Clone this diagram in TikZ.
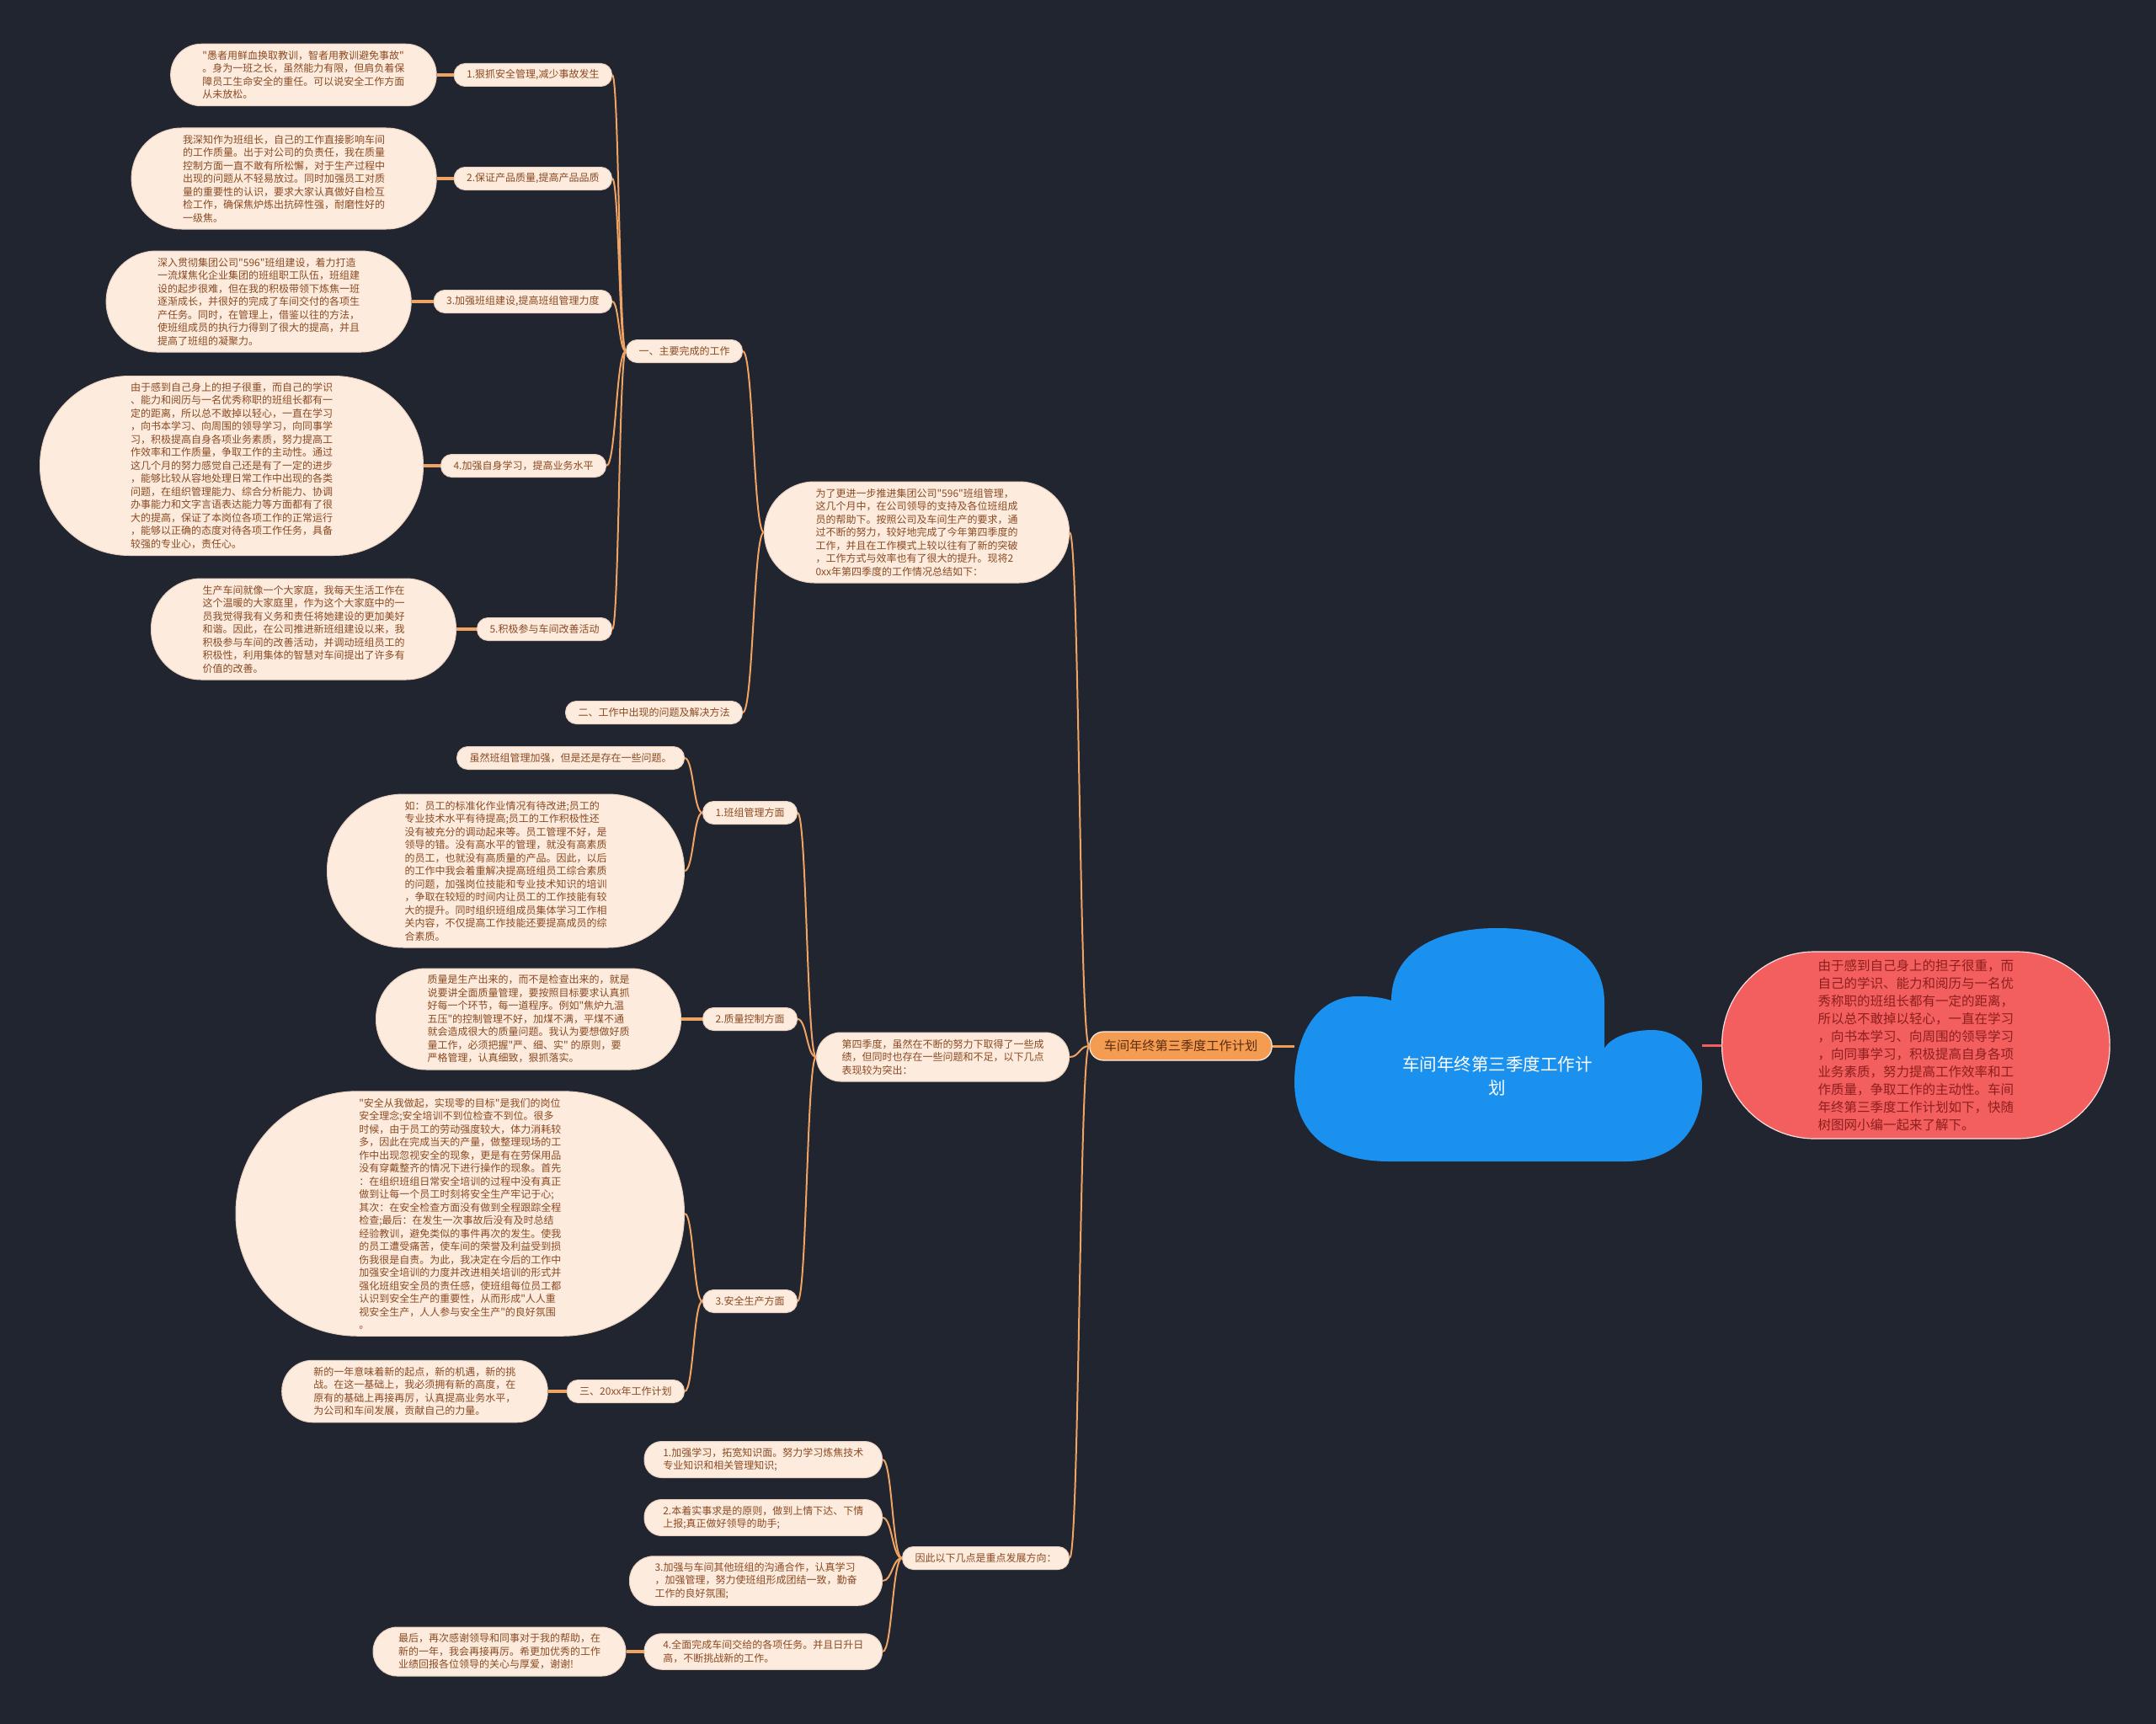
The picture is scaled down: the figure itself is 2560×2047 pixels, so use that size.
\documentclass[tikz,border=0pt]{standalone}
\usepackage{fontspec}
\usepackage{xcolor}
\usepackage{tikz}
\usetikzlibrary{positioning,calc}
\newfontfamily\cjk{Noto Sans CJK SC}
\definecolor{bgdark}{HTML}{212530}
\definecolor{leafpeach}{HTML}{FDEBDD}
\definecolor{leafedge}{HTML}{EAD2C2}
\definecolor{leaftext}{HTML}{8A4A22}
\definecolor{linkorange}{HTML}{F0A463}
\definecolor{mainorange}{HTML}{F49D52}
\definecolor{maintext}{HTML}{5C2C0E}
\definecolor{cloudblue}{HTML}{1A91EE}
\definecolor{introred}{HTML}{F35E5E}
\definecolor{introtext}{HTML}{8E1F1F}

\begin{document}
\begin{tikzpicture}[x=1pt,y=-1pt,
  leafbase/.style={rectangle,fill=leafpeach,draw=leafedge,line width=1pt,text=leaftext,
    font=\cjk\fontsize{12pt}{15.5pt}\selectfont,align=left},
  para/.code={\pgfmathsetmacro\paraH{27+(#1-1)*15.5}%
    \pgfmathsetmacro\paraR{\paraH/2-0.5}%
    \pgfmathsetmacro\paraX{\paraH/2+1}%
    \tikzset{leafbase,rounded corners=\paraR pt,inner xsep=\paraX pt,inner ysep=7.5pt,
      minimum height=\paraH pt}},
  tag/.style={leafbase,rounded corners=13pt,inner xsep=15pt,inner ysep=0pt,minimum height=27pt},
  mainbox/.style={rectangle,rounded corners=16.5pt,fill=mainorange,draw=white!85!mainorange,line width=1.2pt,
    text=maintext,font=\cjk\fontsize{15.2pt}{18pt}\selectfont,inner xsep=17pt,minimum height=34pt},
  leadbox/.style={rectangle,rounded corners=110pt,fill=introred,draw=white!80!introred,line width=1.2pt,
    text=introtext,font=\cjk\fontsize{15.5pt}{21pt}\selectfont,align=left,inner xsep=114pt,
    inner ysep=8pt,minimum height=222pt},
  link/.style={draw=linkorange,line width=2pt,
    to path={let \p1=(\tikztostart),\p2=(\tikztotarget) in
      .. controls ({(\x1+\x2)/2},\y1) and ({(\x1+\x2)/2},\y2) .. (\tikztotarget)}},
  stub/.style={draw=linkorange,line width=3.5pt}
]
\fill[bgdark] (0,0) rectangle (2560,2047);
% central cloud
\fill[cloudblue] (1650,1379) -- (1930,1379)
  .. controls (1995,1379) and (2021,1335) .. (2021,1290)
  .. controls (2021,1250) and (1995,1223) .. (1962,1223)
  .. controls (1935,1223) and (1912,1232) .. (1905,1245)
  -- (1905,1190)
  .. controls (1905,1130) and (1850,1102) .. (1778,1102)
  .. controls (1706,1102) and (1652,1130) .. (1652,1188)
  .. controls (1640,1184) and (1628,1183) .. (1612,1183)
  .. controls (1560,1183) and (1537,1235) .. (1537,1285)
  .. controls (1537,1340) and (1572,1379) .. (1650,1379) -- cycle;
\node[text=white,font=\cjk\fontsize{20.5pt}{28pt}\selectfont,align=center] (root) at (1778,1278)
  {车间年终第三季度工作计\\划};
\coordinate (cloudL) at (1537,1242);
\coordinate (cloudR) at (2021,1241);
\node[leadbox,anchor=west] (lead) at (2044,1241) {由于感到自己身上的担子很重，而\\自己的学识、能力和阅历与一名优\\秀称职的班组长都有一定的距离，\\所以总不敢掉以轻心，一直在学习\\，向书本学习、向周围的领导学习\\，向同事学习，积极提高自身各项\\业务素质，努力提高工作效率和工\\作质量，争取工作的主动性。车间\\年终第三季度工作计划如下，快随\\树图网小编一起来了解下。};
\node[mainbox] (main) at (1402,1242) {车间年终第三季度工作计划};
\draw[line width=3pt,draw=mainorange] (main.east) -- (cloudL);
\draw[line width=3pt,draw=introred] (cloudR) -- (lead.west);

% first branch
\node[para=7,anchor=east] (review) at (1270,632) {为了更进一步推进集团公司"596"班组管理，\\这几个月中，在公司领导的支持及各位班组成\\员的帮助下。按照公司及车间生产的要求，通\\过不断的努力，较好地完成了今年第四季度的\\工作，并且在工作模式上较以往有了新的突破\\，工作方式与效率也有了很大的提升。现将2\\0xx年第四季度的工作情况总结如下：};
\node[tag,anchor=east] (done) at (882,417) {一、主要完成的工作};
\node[tag,anchor=east] (probs) at (882,846) {二、工作中出现的问题及解决方法};
\node[tag,anchor=east] (d1) at (727,89) {1.狠抓安全管理,减少事故发生};
\node[tag,anchor=east] (d2) at (727,212) {2.保证产品质量,提高产品品质};
\node[tag,anchor=east] (d3) at (727,358) {3.加强班组建设,提高班组管理力度};
\node[tag,anchor=east] (d4) at (720,553) {4.加强自身学习，提高业务水平};
\node[tag,anchor=east] (d5) at (727,747) {5.积极参与车间改善活动};
\node[para=4,left=20pt of d1] (dt1) {"愚者用鲜血换取教训，智者用教训避免事故"\\。身为一班之长，虽然能力有限，但肩负着保\\障员工生命安全的重任。可以说安全工作方面\\从未放松。};
\node[para=7,left=20pt of d2] (dt2) {我深知作为班组长，自己的工作直接影响车间\\的工作质量。出于对公司的负责任，我在质量\\控制方面一直不敢有所松懈，对于生产过程中\\出现的问题从不轻易放过。同时加强员工对质\\量的重要性的认识，要求大家认真做好自检互\\检工作，确保焦炉炼出抗碎性强，耐磨性好的\\一级焦。};
\node[para=7,left=26pt of d3] (dt3) {深入贯彻集团公司"596"班组建设，着力打造\\一流煤焦化企业集团的班组职工队伍，班组建\\设的起步很难，但在我的积极带领下炼焦一班\\逐渐成长，并很好的完成了车间交付的各项生\\产任务。同时，在管理上，借鉴以往的方法，\\使班组成员的执行力得到了很大的提高，并且\\提高了班组的凝聚力。};
\node[para=13,left=20pt of d4] (dt4) {由于感到自己身上的担子很重，而自己的学识\\、能力和阅历与一名优秀称职的班组长都有一\\定的距离，所以总不敢掉以轻心，一直在学习\\，向书本学习、向周围的领导学习，向同事学\\习，积极提高自身各项业务素质，努力提高工\\作效率和工作质量，争取工作的主动性。通过\\这几个月的努力感觉自己还是有了一定的进步\\，能够比较从容地处理日常工作中出现的各类\\问题，在组织管理能力、综合分析能力、协调\\办事能力和文字言语表达能力等方面都有了很\\大的提高，保证了本岗位各项工作的正常运行\\，能够以正确的态度对待各项工作任务，具备\\较强的专业心，责任心。};
\node[para=7,left=24pt of d5] (dt5) {生产车间就像一个大家庭，我每天生活工作在\\这个温暖的大家庭里，作为这个大家庭中的一\\员我觉得我有义务和责任将她建设的更加美好\\和谐。因此，在公司推进新班组建设以来，我\\积极参与车间的改善活动，并调动班组员工的\\积极性，利用集体的智慧对车间提出了许多有\\价值的改善。};

% second branch
\node[para=3,anchor=east] (issues) at (1270,1255) {第四季度，虽然在不断的努力下取得了一些成\\绩，但同时也存在一些问题和不足，以下几点\\表现较为突出：};
\node[tag,anchor=east] (i1) at (947,965) {1.班组管理方面};
\node[tag,anchor=east] (i2) at (947,1210) {2.质量控制方面};
\node[tag,anchor=east] (i3) at (947,1545) {3.安全生产方面};
\node[tag,anchor=east] (i1a) at (813,900) {虽然班组管理加强，但是还是存在一些问题。};
\node[para=11,anchor=east] (i1b) at (813,1034) {如：员工的标准化作业情况有待改进;员工的\\专业技术水平有待提高;员工的工作积极性还\\没有被充分的调动起来等。员工管理不好，是\\领导的错。没有高水平的管理，就没有高素质\\的员工，也就没有高质量的产品。因此，以后\\的工作中我会着重解决提高班组员工综合素质\\的问题，加强岗位技能和专业技术知识的培训\\，争取在较短的时间内让员工的工作技能有较\\大的提升。同时组织班组成员集体学习工作相\\关内容，不仅提高工作技能还要提高成员的综\\合素质。};
\node[para=7,left=25pt of i2] (i2a) {质量是生产出来的，而不是检查出来的，就是\\说要讲全面质量管理，要按照目标要求认真抓\\好每一个环节，每一道程序。例如"焦炉九温\\五压"的控制管理不好，加煤不满，平煤不通\\就会造成很大的质量问题。我认为要想做好质\\量工作，必须把握"严、细、实" 的原则，要\\严格管理，认真细致，狠抓落实。};
\node[para=18,anchor=east] (i3a) at (813,1441) {"安全从我做起，实现零的目标"是我们的岗位\\安全理念;安全培训不到位检查不到位。很多\\时候，由于员工的劳动强度较大，体力消耗较\\多，因此在完成当天的产量，做整理现场的工\\作中出现忽视安全的现象，更是有在劳保用品\\没有穿戴整齐的情况下进行操作的现象。首先\\：在组织班组日常安全培训的过程中没有真正\\做到让每一个员工时刻将安全生产牢记于心;\\其次：在安全检查方面没有做到全程跟踪全程\\检查;最后：在发生一次事故后没有及时总结\\经验教训，避免类似的事件再次的发生。使我\\的员工遭受痛苦，使车间的荣誉及利益受到损\\伤我很是自责。为此，我决定在今后的工作中\\加强安全培训的力度并改进相关培训的形式并\\强化班组安全员的责任感，使班组每位员工都\\认识到安全生产的重要性，从而形成"人人重\\视安全生产，人人参与安全生产"的良好氛围\\。};
\node[tag,anchor=east] (next) at (813,1652) {三、20xx年工作计划};
\node[para=4,left=22pt of next] (nexta) {新的一年意味着新的起点，新的机遇，新的挑\\战。在这一基础上，我必须拥有新的高度，在\\原有的基础上再接再厉，认真提高业务水平，\\为公司和车间发展，贡献自己的力量。};

% third branch
\node[tag,anchor=east] (plans) at (1270,1850) {因此以下几点是重点发展方向：};
\node[para=2,anchor=east] (p1) at (1048,1733) {1.加强学习，拓宽知识面。努力学习炼焦技术\\专业知识和相关管理知识;};
\node[para=2,anchor=east] (p2) at (1048,1802) {2.本着实事求是的原则，做到上情下达、下情\\上报;真正做好领导的助手;};
\node[para=3,anchor=east] (p3) at (1048,1877) {3.加强与车间其他班组的沟通合作，认真学习\\，加强管理，努力使班组形成团结一致，勤奋\\工作的良好氛围;};
\node[para=2,anchor=east] (p4) at (1048,1961) {4.全面完成车间交给的各项任务。并且日升日\\高，不断挑战新的工作。};
\node[para=3,left=21pt of p4] (p4a) {最后，再次感谢领导和同事对于我的帮助，在\\新的一年，我会再接再厉。希更加优秀的工作\\业绩回报各位领导的关心与厚爱，谢谢!};

% connectors
\draw[link] (main.west) to (review.east);
\draw[link] (main.west) to (issues.east);
\draw[link] (main.west) to (plans.east);
\draw[link] (review.west) to (done.east);
\draw[link] (review.west) to (probs.east);
\draw[link] (done.west) to (d1.east);
\draw[link] (done.west) to (d2.east);
\draw[link] (done.west) to (d3.east);
\draw[link] (done.west) to (d4.east);
\draw[link] (done.west) to (d5.east);
\draw[stub] (d1.west) -- (dt1.east);
\draw[stub] (d2.west) -- (dt2.east);
\draw[stub] (d3.west) -- (dt3.east);
\draw[stub] (d4.west) -- (dt4.east);
\draw[stub] (d5.west) -- (dt5.east);
\draw[link] (issues.west) to (i1.east);
\draw[link] (issues.west) to (i2.east);
\draw[link] (issues.west) to (i3.east);
\draw[link] (i1.west) to (i1a.east);
\draw[link] (i1.west) to (i1b.east);
\draw[stub] (i2.west) -- (i2a.east);
\draw[link] (i3.west) to (i3a.east);
\draw[link] (i3.west) to (next.east);
\draw[stub] (next.west) -- (nexta.east);
\draw[link] (plans.west) to (p1.east);
\draw[link] (plans.west) to (p2.east);
\draw[link] (plans.west) to (p3.east);
\draw[link] (plans.west) to (p4.east);
\draw[stub] (p4.west) -- (p4a.east);
\end{tikzpicture}
\end{document}
